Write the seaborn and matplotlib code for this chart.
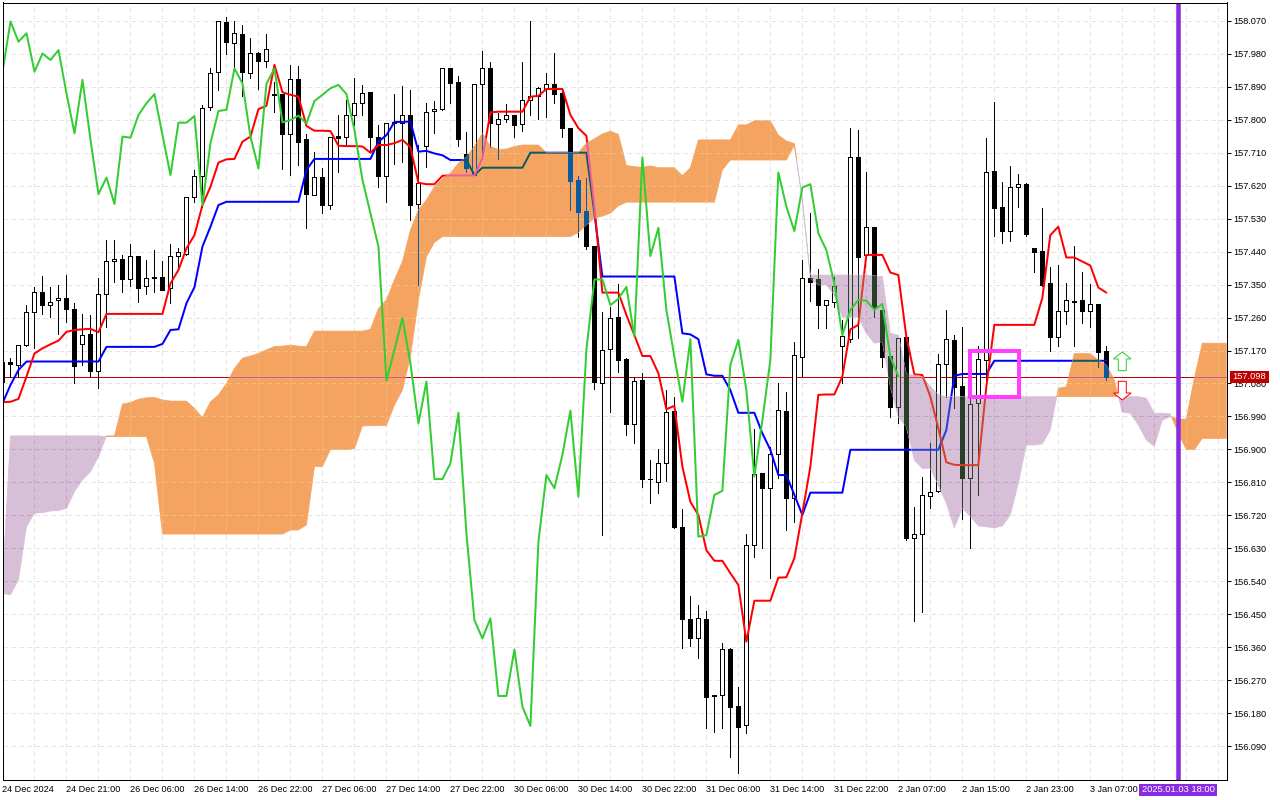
import numpy as np
import matplotlib
matplotlib.use("Agg")
import matplotlib.pyplot as plt
from matplotlib.colors import to_rgb, to_hex
from matplotlib.path import Path
from matplotlib.patches import Rectangle, Polygon
import seaborn as sns

# ---- candles, in chart order -------------------------------------------------
opens = [157.085,157.138,157.131,157.186,157.274,157.331,157.295,157.307,157.313,157.283,
         157.187,157.215,157.115,157.323,157.414,157.419,157.364,157.427,157.345,157.370,
         157.370,157.340,157.427,157.434,157.588,157.647,157.834,157.930,158.066,158.009,
         158.034,157.927,157.981,157.961,157.869,157.869,157.762,157.910,157.747,157.594,
         157.643,157.568,157.755,157.752,157.812,157.845,157.875,157.753,157.647,157.794,
         157.790,157.812,157.570,157.727,157.824,157.829,157.940,157.903,157.706,157.649,
         157.897,157.940,157.789,157.801,157.813,157.788,157.853,157.865,157.885,157.897,
         157.872,157.777,157.636,157.551,157.455,157.082,157.173,157.261,157.146,156.969,
         157.090,156.820,156.810,156.862,157.005,156.688,156.436,156.384,156.436,156.229,
         156.229,156.356,156.200,156.147,156.638,156.835,156.794,156.887,157.005,156.767,
         157.153,157.367,157.364,157.293,157.303,157.183,157.201,157.697,157.431,157.508,
         157.281,157.155,157.017,157.206,156.659,156.668,156.774,156.787,157.132,157.199,
         157.073,156.823,157.026,157.144,157.660,157.561,157.495,157.616,157.624,157.451,
         157.442,157.353,157.206,157.277,157.303,157.307,157.279,157.297,157.169]
highs = [157.140,157.149,157.186,157.294,157.343,157.374,157.343,157.349,157.376,157.299,
         157.270,157.267,157.367,157.472,157.472,157.431,157.460,157.427,157.417,157.444,
         157.414,157.460,157.449,157.588,157.663,157.840,157.940,158.069,158.080,158.069,
         158.058,158.022,157.984,158.034,157.904,157.869,157.950,157.947,157.760,157.711,
         157.667,157.754,157.812,157.854,157.913,157.895,157.875,157.786,157.792,157.870,
         157.892,157.881,157.731,157.845,157.851,157.940,157.940,157.920,157.767,157.897,
         157.988,157.958,157.818,157.843,157.813,157.958,158.070,157.890,157.927,157.981,
         157.886,157.777,157.647,157.642,157.455,157.276,157.288,157.351,157.149,157.099,
         157.108,156.871,156.901,157.062,157.044,156.737,156.500,156.475,156.459,156.229,
         156.372,156.357,156.252,156.668,156.955,156.835,156.908,157.080,157.058,157.194,
         157.417,157.546,157.392,157.307,157.372,157.253,157.777,157.772,157.658,157.508,
         157.281,157.155,157.203,157.214,156.744,156.826,156.917,157.161,157.281,157.212,
         157.235,157.040,157.182,157.749,157.849,157.631,157.674,157.652,157.627,157.451,
         157.558,157.399,157.404,157.353,157.455,157.384,157.352,157.297,157.182]
lows = [157.085,157.099,157.099,157.182,157.178,157.270,157.261,157.215,157.249,157.082,
        157.131,157.097,157.067,157.235,157.358,157.331,157.347,157.303,157.324,157.331,
        157.335,157.301,157.399,157.431,157.576,157.563,157.827,157.881,157.980,157.940,
        157.866,157.914,157.885,157.945,157.822,157.666,157.649,157.677,157.505,157.594,
        157.546,157.557,157.657,157.730,157.786,157.813,157.713,157.617,157.576,157.679,
        157.684,157.526,157.349,157.672,157.765,157.827,157.847,157.729,157.658,157.649,
        157.693,157.725,157.693,157.795,157.754,157.768,157.813,157.803,157.808,157.847,
        157.754,157.554,157.481,157.446,157.064,156.666,157.003,157.112,156.939,156.917,
        156.798,156.755,156.782,156.814,156.686,156.359,156.363,156.332,156.140,156.130,
        156.140,156.061,156.016,156.125,156.605,156.632,156.550,156.821,156.680,156.703,
        157.101,157.305,157.232,157.232,157.290,157.082,157.194,157.203,157.426,157.261,
        157.126,156.989,156.971,156.653,156.433,156.457,156.741,156.785,157.044,157.012,
        156.710,156.630,156.776,157.080,157.483,157.463,157.470,157.563,157.483,157.385,
        157.347,157.170,157.181,157.242,157.181,157.246,157.235,157.126,157.090]
closes = [157.140,157.132,157.186,157.274,157.331,157.293,157.303,157.314,157.282,157.129,
          157.212,157.115,157.323,157.414,157.419,157.366,157.427,157.342,157.367,157.367,
          157.336,157.427,157.438,157.588,157.647,157.831,157.927,158.069,158.011,158.036,
          157.929,157.981,157.961,157.992,157.868,157.762,157.910,157.740,157.596,157.643,
          157.568,157.754,157.749,157.812,157.845,157.872,157.754,157.647,157.790,157.792,
          157.812,157.566,157.627,157.822,157.829,157.940,157.901,157.748,157.667,157.897,
          157.940,157.792,157.801,157.812,157.786,157.853,157.866,157.886,157.897,157.871,
          157.778,157.634,157.548,157.454,157.085,157.171,157.258,157.144,156.969,157.087,
          156.818,156.818,156.862,157.001,156.688,156.436,156.384,156.439,156.225,156.226,
          156.354,156.198,156.143,156.638,156.833,156.794,156.887,157.007,156.768,157.158,
          157.367,157.358,157.293,157.307,157.345,157.210,157.697,157.426,157.508,157.285,
          157.151,157.017,157.203,156.659,156.668,156.775,156.785,157.132,157.201,157.071,
          156.823,157.024,157.146,157.657,157.560,157.495,157.616,157.624,157.488,157.440,
          157.349,157.208,157.277,157.307,157.305,157.279,157.297,157.167,157.098]

# ---- tenkan / kijun / chikou ---------------------------------------------------
tenkan = [157.029,157.030,157.038,157.099,157.162,157.176,157.187,157.197,157.221,157.226,
          157.228,157.229,157.220,157.270,157.270,157.270,157.270,157.270,157.270,157.270,
          157.270,157.353,157.390,157.449,157.485,157.567,157.617,157.683,157.692,157.693,
          157.740,157.754,157.829,157.838,157.950,157.875,157.868,157.863,157.783,157.770,
          157.770,157.769,157.729,157.728,157.728,157.727,157.710,157.731,157.731,157.736,
          157.745,157.725,157.628,157.624,157.624,157.647,157.648,157.648,157.648,157.648,
          157.695,157.820,157.822,157.822,157.822,157.822,157.863,157.865,157.884,157.884,
          157.884,157.813,157.777,157.756,157.563,157.328,157.328,157.328,157.267,157.212,
          157.155,157.155,157.108,157.010,157.019,156.853,156.757,156.721,156.625,156.596,
          156.596,156.562,156.530,156.375,156.487,156.487,156.487,156.550,156.551,156.603,
          156.726,156.853,157.049,157.050,157.050,157.099,157.228,157.240,157.431,157.431,
          157.431,157.383,157.376,157.208,157.105,157.103,157.044,156.958,156.865,156.858,
          156.857,156.857,156.857,157.071,157.240,157.240,157.240,157.240,157.240,157.240,
          157.313,157.485,157.508,157.424,157.424,157.413,157.402,157.342,157.328]
kijun = [157.026,157.076,157.117,157.140,157.140,157.140,157.140,157.140,157.140,157.140,
         157.140,157.140,157.140,157.180,157.180,157.180,157.180,157.180,157.180,157.180,
         157.188,157.226,157.228,157.299,157.343,157.454,157.508,157.567,157.576,157.576,
         157.576,157.576,157.576,157.576,157.576,157.576,157.576,157.576,157.663,157.693,
         157.693,157.693,157.693,157.693,157.693,157.693,157.693,157.740,157.758,157.794,
         157.794,157.795,157.713,157.715,157.708,157.703,157.690,157.690,157.690,157.649,
         157.669,157.669,157.669,157.669,157.669,157.669,157.710,157.710,157.710,157.710,
         157.710,157.710,157.710,157.710,157.545,157.372,157.372,157.372,157.372,157.372,
         157.372,157.372,157.372,157.372,157.372,157.217,157.214,157.201,157.105,157.101,
         157.101,157.062,157.000,157.000,157.000,156.944,156.899,156.830,156.830,156.776,
         156.721,156.782,156.782,156.782,156.782,156.782,156.899,156.899,156.899,156.899,
         156.899,156.899,156.899,156.899,156.899,156.899,156.899,156.899,156.953,157.101,
         157.106,157.106,157.106,157.106,157.142,157.142,157.142,157.142,157.142,157.142,
         157.142,157.142,157.142,157.142,157.142,157.142,157.142,157.142,157.142]
chikou = [157.931,158.068,158.013,158.036,157.931,157.981,157.963,157.990,157.872,157.763,
          157.909,157.745,157.597,157.642,157.570,157.754,157.751,157.813,157.845,157.870,
          157.758,157.649,157.792,157.792,157.810,157.567,157.736,157.824,157.827,157.940,
          157.899,157.754,157.667,157.898,157.940,157.793,157.799,157.811,157.790,157.851,
          157.868,157.886,157.895,157.870,157.772,157.636,157.545,157.454,157.088,157.172,
          157.258,157.135,156.971,157.085,156.819,156.819,156.862,157.000,156.671,156.434,
          156.384,156.439,156.227,156.227,156.354,156.198,156.145,156.648,156.830,156.794,
          156.885,157.006,156.771,157.172,157.364,157.364,157.294,157.311,157.344,157.208,
          157.697,157.428,157.505,157.281,157.153,157.030,157.201,156.662,156.666,156.776,
          156.787,157.131,157.199,157.062,156.826,156.980,157.144,157.656,157.563,157.496,
          157.615,157.624,157.490,157.444,157.353,157.212,157.281,157.308,157.306,157.281,
          157.297,157.153,157.099]

# ---- cloud spans ----------------------------------------------------------------
span_a = [156.507,156.503,156.544,156.689,156.726,156.727,156.732,156.733,156.739,156.785,
          156.817,156.839,156.880,156.937,156.937,157.024,157.028,157.037,157.041,157.042,
          157.035,157.032,157.032,157.032,157.012,156.987,157.030,157.049,157.080,157.121,
          157.149,157.155,157.162,157.172,157.181,157.182,157.185,157.182,157.181,157.223,
          157.223,157.223,157.223,157.223,157.223,157.223,157.228,157.285,157.308,157.363,
          157.413,157.499,157.554,157.581,157.617,157.640,157.654,157.681,157.699,157.727,
          157.763,157.727,157.719,157.720,157.727,157.731,157.731,157.731,157.710,157.710,
          157.710,157.710,157.710,157.736,157.748,157.761,157.769,157.760,157.675,157.672,
          157.670,157.674,157.669,157.669,157.669,157.647,157.669,157.745,157.745,157.745,
          157.745,157.745,157.786,157.786,157.797,157.797,157.797,157.758,157.742,157.735,
          157.576,157.367,157.349,157.349,157.322,157.261,157.261,157.261,157.217,157.190,
          157.194,157.071,156.989,156.962,156.871,156.848,156.848,156.803,156.753,156.686,
          156.739,156.717,156.691,156.689,156.686,156.691,156.721,156.807,156.912,156.912,
          156.915,156.953,157.067,157.071,157.162,157.162,157.161,157.144,157.131,157.090,
          157.001,156.999,156.967,156.926,156.908,156.980,156.989,156.983,156.983,157.094,
          157.190,157.190,157.190,157.190]
span_b = [156.539,156.937,156.937,156.937,156.937,156.937,156.937,156.937,156.937,156.937,
          156.937,156.937,156.937,156.935,156.935,156.935,156.935,156.935,156.935,156.862,
          156.669,156.669,156.669,156.669,156.669,156.669,156.669,156.669,156.669,156.669,
          156.669,156.669,156.669,156.669,156.669,156.669,156.680,156.680,156.694,156.853,
          156.853,156.900,156.900,156.900,156.902,156.964,156.965,156.965,156.965,157.021,
          157.062,157.153,157.308,157.426,157.465,157.481,157.481,157.481,157.481,157.481,
          157.481,157.481,157.481,157.481,157.481,157.481,157.481,157.481,157.481,157.481,
          157.481,157.481,157.492,157.513,157.531,157.537,157.545,157.565,157.575,157.575,
          157.575,157.575,157.575,157.575,157.575,157.575,157.575,157.575,157.575,157.575,
          157.663,157.690,157.690,157.690,157.690,157.690,157.690,157.690,157.690,157.731,
          157.586,157.376,157.376,157.376,157.376,157.376,157.376,157.376,157.376,157.374,
          157.372,157.217,157.212,157.106,157.103,157.099,157.071,157.049,157.044,157.044,
          157.044,157.044,157.044,157.044,157.044,157.044,157.044,157.044,157.044,157.044,
          157.044,157.044,157.044,157.044,157.044,157.044,157.044,157.044,157.044,157.044,
          157.044,157.044,157.044,157.040,156.999,156.999,156.997,156.944,156.900,156.899,
          156.930,156.930,156.930,156.930]

x_labels = ["24 Dec 2024","24 Dec 21:00","26 Dec 06:00","26 Dec 14:00","26 Dec 22:00",
            "27 Dec 06:00","27 Dec 14:00","27 Dec 22:00","30 Dec 06:00","30 Dec 14:00",
            "30 Dec 22:00","31 Dec 06:00","31 Dec 14:00","31 Dec 22:00","2 Jan 07:00",
            "2 Jan 15:00","2 Jan 23:00","3 Jan 07:00"]
last_price = 157.098
y_ticks = np.round(156.09 + 0.09 * np.arange(23), 3)
x_ticks = np.arange(len(x_labels)) * 8
grid_x = np.arange(0, 154, 4)
marker_bar = 147
marker_label = "2025.01.03 18:00"

PX = 0.72
ORANGE, THISTLE = "#F4A460", "#D8BFD8"
GRID, PRICE = "#E6E6E6", "#C00000"
XMIN, XMAX, YMIN, YMAX = 0.025, 153.09, 155.999, 158.120

sns.set_style("white")
plt.rcParams["font.family"] = ["Liberation Sans", "DejaVu Sans"]
fig = plt.figure(figsize=(12.8, 8), dpi=100)
ax = fig.add_axes([2.5 / 1280, 20.5 / 800, 1224.5 / 1280, 777 / 800])


def mixer(cloud):
    """Terminal-style XOR blending of a colour drawn under the cloud."""
    mask = [255 - int(round(v * 255)) for v in to_rgb(cloud)]

    def mix(color):
        rgb = [int(round(v * 255)) for v in to_rgb(color)]
        return to_hex([(a ^ b) / 255 for a, b in zip(rgb, mask)])
    return mix


def draw_layer(mix, z, clip=None):
    arts = []
    arts.append(ax.vlines(grid_x, YMIN, YMAX, colors=mix(GRID), lw=PX, zorder=z,
                          linestyles=(0, (4.5, 3.5)), antialiased=False))
    arts.append(ax.hlines(y_ticks, XMIN, XMAX, colors=mix(GRID), lw=PX, zorder=z,
                          linestyles=(0, (4.5, 3.5)), antialiased=False))
    arts.append(ax.hlines(last_price, XMIN, XMAX, colors=mix(PRICE), lw=PX, zorder=z + .1,
                          antialiased=False))
    bars = np.arange(len(opens))
    arts.append(ax.vlines(bars, lows, highs, colors=mix("#000000"), lw=PX, zorder=z + .2,
                          antialiased=False))
    o, c = np.array(opens), np.array(closes)
    up = c >= o
    for mask, face in ((up, "#FFFFFF"), (~up, "#000000")):
        cont = ax.bar(bars[mask], (c - o)[mask], bottom=o[mask], width=0.5,
                      color=mix(face), edgecolor=mix("#000000"), linewidth=PX,
                      zorder=z + .3, antialiased=False)
        arts.extend(cont.patches)
    for series, color in ((kijun, "#0000FF"), (tenkan, "#FF0000")):
        sns.lineplot(x=np.arange(len(series)), y=series, color=mix(color), lw=2 * PX,
                     ax=ax, estimator=None, sort=False, legend=False, zorder=z + .4)
        arts.append(ax.lines[-1])
    if clip is not None:
        for a in arts:
            a.set_clip_path(clip, ax.transData)


draw_layer(lambda color: color, 1)

xs = np.arange(len(span_a))
a, b = np.array(span_a), np.array(span_b)
for above, cloud in ((a >= b, ORANGE), (a < b, THISTLE)):
    poly = ax.fill_between(xs, a, b, where=above, interpolate=True, color=cloud,
                           lw=0.5, zorder=2)
    draw_layer(mixer(cloud), 3, Path.make_compound_path(*poly.get_paths()))

sns.lineplot(x=np.arange(len(chikou)), y=chikou, color="#32CD32", lw=2 * PX, ax=ax,
             estimator=None, sort=False, legend=False, zorder=5)

ax.axvline(marker_bar, color="#8A2BE2", lw=4.5 * PX, zorder=6)
ax.add_patch(Rectangle((120.96, 157.043), 6.09, 0.126, fill=False, edgecolor="#FF3EFF",
                       lw=4 * PX, zorder=7, joinstyle="miter"))
# signal arrows: tip position, then head and shaft sizes
for tip, sign, edge in ((157.166, -1, "#32CD32"), (157.035, 1, "#FF0000")):
    ax.add_patch(Polygon([(140, tip), (141.1, tip + sign * .019), (140.5, tip + sign * .019),
                          (140.5, tip + sign * .051), (139.5, tip + sign * .051),
                          (139.5, tip + sign * .019), (138.9, tip + sign * .019)],
                         closed=True, facecolor="white", edgecolor=edge, lw=PX, zorder=7))

ax.set_xlim(XMIN, XMAX)
ax.set_ylim(YMIN, YMAX)
ax.set_xticks(x_ticks)
ax.set_xticklabels(x_labels, ha="left")
ax.yaxis.tick_right()
ax.set_yticks(y_ticks)
ax.set_yticklabels([f"{v:.3f}" for v in y_ticks])
ax.tick_params(axis="both", direction="out", length=3, width=PX, color="black",
               labelsize=6.6, labelcolor="black", pad=1.5)
ax.tick_params(axis="x", pad=0.8)
for s in ax.spines.values():
    s.set_visible(True)
    s.set_linewidth(PX)
    s.set_color("black")
    s.set_zorder(8)

# flag for the last price, on the price scale
price_y = (20.5 + 777 * (last_price - YMIN) / (YMAX - YMIN)) / 800
fig.add_artist(Rectangle((1230 / 1280, price_y - 6 / 800), 39 / 1280, 12 / 800,
                         transform=fig.transFigure, facecolor=PRICE, edgecolor="none", zorder=20))
fig.text(1249.5 / 1280, price_y, f"{last_price:.3f}", color="white", fontsize=6.7,
         va="center", ha="center", zorder=21)
# flag for the time marker, on the time scale
fig.add_artist(Rectangle((1139 / 1280, 1 - 795.5 / 800), 78 / 1280, 12 / 800,
                         transform=fig.transFigure, facecolor="#8A2BE2", edgecolor="none", zorder=20))
fig.text(1178 / 1280, 1 - 789.5 / 800, marker_label, color="white", fontsize=6.7,
         va="center", ha="center", zorder=21)

fig.savefig("out.png", dpi=100, facecolor="white")
